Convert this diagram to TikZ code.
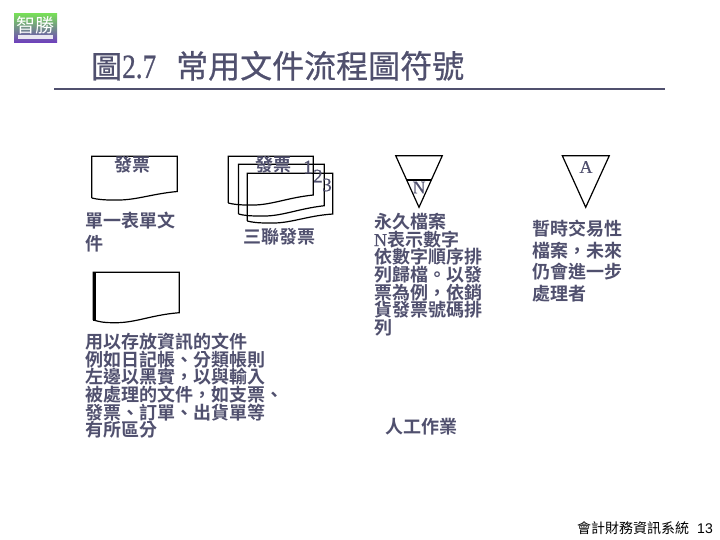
\documentclass[tikz,border=0pt]{standalone}
\usepackage{graphicx}
\usepackage{fontspec}
\setmainfont{Liberation Serif}
\newfontfamily\cjk{Noto Sans CJK TC}[BoldFont={Noto Sans CJK TC Bold}]
\newfontfamily\cjktitle{Noto Sans CJK TC}[FakeBold=0.6]
\newfontfamily\titlelat{Liberation Serif}[FakeBold=0.8]
\newfontfamily\semilat{Liberation Serif}[FakeBold=0.5]
\newfontfamily\helv{Liberation Sans}
\definecolor{slate}{HTML}{50506E}
\definecolor{logotop}{HTML}{78DC5A}
\definecolor{logomid}{HTML}{5A8CA0}
\definecolor{logobot}{HTML}{6E3CBE}
\newcommand{\lat}[1]{{\semilat\mdseries #1}}
\tikzset{
  body/.style={inner sep=0pt,outer sep=0pt,anchor=north west,align=left,text=slate,font=\cjk\bfseries\fontsize{18}{17.7}\selectfont},
  shp/.style={draw=black,line width=1.2pt,line join=miter},
  num/.style={inner sep=0pt,text=slate,font=\semilat\fontsize{19}{19}\selectfont},
  let/.style={inner sep=0pt,text=slate,font=\semilat\fontsize{18}{18}\selectfont},
}
\begin{document}
\begin{tikzpicture}[x=1pt,y=-1pt]
\useasboundingbox (0,0) rectangle (720,540);
% logo
\shade[top color=logotop,middle color=logomid,bottom color=logobot] (14,14) rectangle (57,43);
\node[inner sep=0pt,text=white,font=\cjk\fontsize{19}{19}\selectfont] (logo) at (35.5,25) {智勝};
\fill[white,opacity=.85] (18,35.5) rectangle (53,39.5);
% title
\node[inner sep=0pt,anchor=base west,text=slate,font=\cjktitle\fontsize{31}{31}\selectfont] (title) at (91,78) {圖\scalebox{.8}[1]{\titlelat\fontsize{34}{34}\selectfont 2.7}\hspace{20pt}{\fontsize{32}{32}\selectfont 常用文件流程圖符號}};
\draw[slate,line width=2pt] (54,89.5) -- (665,89.5);
% single document
\draw[shp] (91.7,198) -- (91.7,156.3) -- (177.3,156.3) -- (177.3,191.5) .. controls (150,194) and (135,201) .. (112,200) .. controls (104,200) and (98,199.5) .. (91.7,198);
\node[body,anchor=center] (a1) at (132,165) {發票};
\node[body,font=\cjk\bfseries\fontsize{18}{23}\selectfont] (a2) at (85,212) {單一表單文\\件};
% triple document
\draw[shp] (228.3,203) -- (228.3,156.3) -- (313.3,156.3) -- (313.3,195) .. controls (285,198) and (270,206) .. (248,205) .. controls (240,205) and (234,204.5) .. (228.3,203);
\draw[shp] (238.5,214) -- (238.5,164.3) -- (324.3,164.3) -- (324.3,205.7) .. controls (296,209) and (281,217) .. (259,216) .. controls (250,216) and (244,215.5) .. (238.5,214);
\draw[shp] (247.3,221) -- (247.3,173.3) -- (332.7,173.3) -- (332.7,214) .. controls (305,216) and (290,224) .. (268,223) .. controls (259,223) and (253,222.5) .. (247.3,221);
\node[body,anchor=center] (b1) at (273,165) {發票};
\node[num] (n1) at (308,167) {1};
\node[num] (n2) at (318,176) {2};
\node[num] (n3) at (327,185) {3};
\node[body,anchor=center] (b2) at (279,237) {三聯發票};
% storage document
\draw[shp] (93.3,320) -- (93.3,272.3) -- (179.3,272.3) -- (179.3,312.7) .. controls (150,315) and (135,323.5) .. (112,322.7) .. controls (105,322.7) and (100,322) .. (93.3,320);
\fill[black] (93,272) rectangle (96.3,320.5);
\node[body] (c1) at (85,333) {用以存放資訊的文件\\例如日記帳、分類帳則\\左邊以黑實，以與輸入\\被處理的文件，如支票、\\發票、訂單、出貨單等\\有所區分};
% triangles
\draw[shp] (395.7,155.7) -- (442.3,155.7) -- (419,207.3) -- cycle;
\coordinate (nl) at (407,180);
\coordinate (nr) at (431,180);
\draw[shp] (nl) -- (nr);
\node[let] (nn) at (419,187.5) {N};
\node[body] (d1) at (374,213) {永久檔案\\\lat{N}表示數字\\依數字順序排\\列歸檔。以發\\票為例，依銷\\貨發票號碼排\\列};
\draw[shp] (562.3,155.7) -- (609.3,155.7) -- (585.7,207.3) -- cycle;
\node[let] (na) at (586,167) {A};
\node[body,font=\cjk\bfseries\fontsize{18}{21.5}\selectfont] (e1) at (532,220) {暫時交易性\\檔案，未來\\仍會進一步\\處理者};
\node[body,anchor=center] (f1) at (421.5,427) {人工作業};
% footer
\node[inner sep=0pt,anchor=base east,text=black,font=\cjk\fontsize{14}{14}\selectfont] (foot) at (713,533) {會計財務資訊系統\hspace{8pt}{\helv 13}};
\end{tikzpicture}
\end{document}
